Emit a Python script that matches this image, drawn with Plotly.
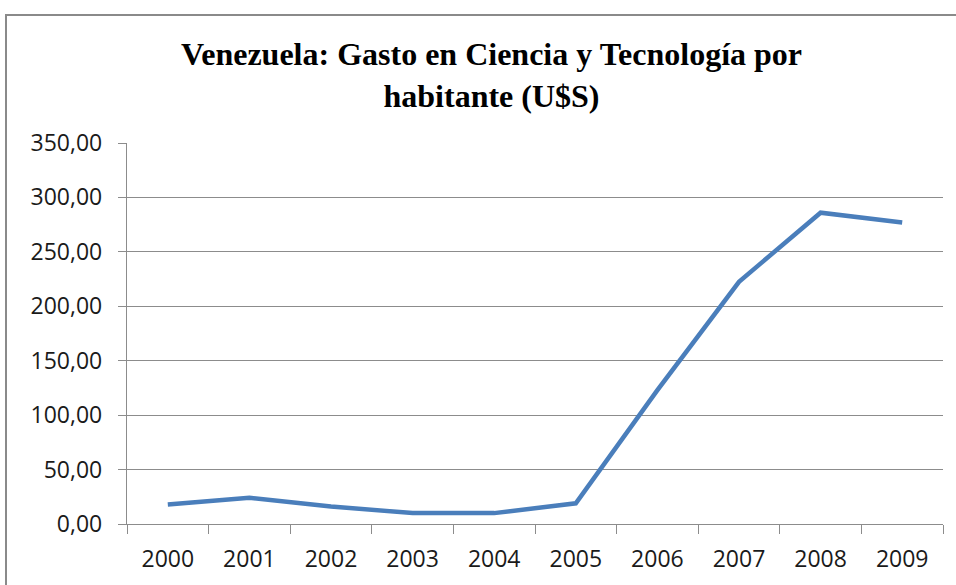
import plotly.graph_objects as go

years = ["2000", "2001", "2002", "2003", "2004", "2005", "2006", "2007", "2008", "2009"]
gasto = [18.0, 24.0, 16.0, 10.0, 10.0, 19.0, 123.0, 222.5, 286.0, 277.0]
y_ticks = [0, 50, 100, 150, 200, 250, 300, 350]

W, H = 956, 585
L, R, T, B = 127, 13, 143, 61
pw, ph = W - L - R, H - T - B

def px_x(X):
    return (X - L) / pw

def px_y(Y):
    return (H - B - Y) / ph

fig = go.Figure()
fig.add_trace(go.Scatter(
    x=years, y=gasto, mode="lines",
    line=dict(color="#4A7EBB", width=4.5),
    hoverinfo="x+y", showlegend=False,
))

grid_col = "#8C8C8C"
fig.update_layout(
    width=W, height=H,
    margin=dict(l=L, r=R, t=T, b=B, pad=0),
    paper_bgcolor="white", plot_bgcolor="white",
    separators=", ",
    font=dict(family="Open Sans, sans-serif", color="#1a1a1a", size=23),
    xaxis=dict(
        type="category", tickson="boundaries", ticks="outside", ticklen=9,
        tickcolor=grid_col, tickwidth=1.3, showline=True, linecolor=grid_col, linewidth=1.3,
        showgrid=False, tickfont=dict(size=23), fixedrange=True,
        range=[-0.5, 9.5], ticklabelstandoff=14,
    ),
    yaxis=dict(
        range=[0, 350], tickvals=y_ticks, tickformat=".2f",
        ticks="outside", ticklen=8, tickcolor=grid_col, tickwidth=1.3,
        showline=True, linecolor=grid_col, linewidth=1.3,
        showgrid=True, gridcolor=grid_col, gridwidth=1.3, zeroline=False,
        tickfont=dict(size=23), fixedrange=True, ticklabelstandoff=11,
    ),
    annotations=[dict(
        text="<b>Venezuela: Gasto en Ciencia y Tecnología por<br>habitante (U$S)</b>",
        xref="paper", yref="paper", x=px_x(491), y=px_y(75),
        xanchor="center", yanchor="middle", showarrow=False,
        font=dict(family="Liberation Serif, Times New Roman, serif", size=32, color="black"),
        align="center",
    )],
    shapes=[dict(
        type="rect", xref="paper", yref="paper",
        x0=px_x(6), x1=px_x(990), y0=px_y(620), y1=px_y(15),
        line=dict(color="#8A8A8A", width=2), fillcolor="rgba(0,0,0,0)", layer="above",
    )],
)

fig.write_html("out.html")
